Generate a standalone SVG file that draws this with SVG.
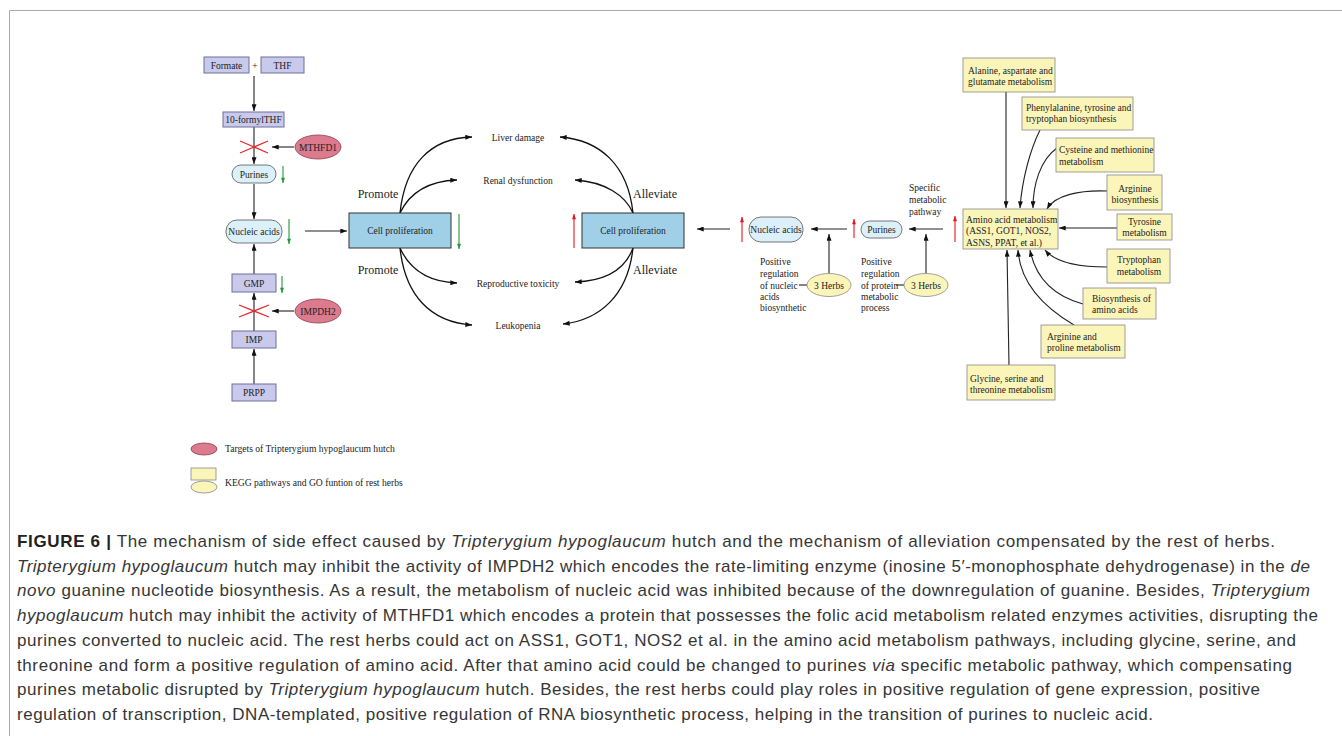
<svg xmlns="http://www.w3.org/2000/svg" width="1342" height="736" viewBox="0 0 1342 736">
<defs>
<marker id="ah" viewBox="0 0 8 6" refX="8" refY="3" markerWidth="7" markerHeight="5" orient="auto" markerUnits="userSpaceOnUse"><path d="M0,0 L8,3 L0,6 z" fill="#111"/></marker>
<marker id="ag" viewBox="0 0 8 6" refX="8" refY="3" markerWidth="6" markerHeight="4" orient="auto" markerUnits="userSpaceOnUse"><path d="M0,0 L8,3 L0,6 z" fill="#1f9a3a"/></marker>
<marker id="ar" viewBox="0 0 8 6" refX="8" refY="3" markerWidth="6" markerHeight="4" orient="auto" markerUnits="userSpaceOnUse"><path d="M0,0 L8,3 L0,6 z" fill="#e3141f"/></marker>
</defs>
<style>
.box{fill:#c9c9ec;stroke:#6f6f9a;stroke-width:1}
.rbox{fill:#dcf0f9;stroke:#555;stroke-width:0.8}
.cell{fill:#9fd0e8;stroke:#333;stroke-width:1}
.pink{fill:#dc7a8e;stroke:#8d3b4c;stroke-width:0.8}
.yel{fill:#fbf5ba;stroke:#888;stroke-width:0.8}
.t{font-family:"Liberation Serif",serif;font-size:9.5px;fill:#222}
.m{text-anchor:middle}
.big{font-size:12px}
.leg{font-size:9.6px}
.ln{stroke:#222;stroke-width:1.1;fill:none;marker-end:url(#ah)}
.pl{stroke:#222;stroke-width:1.1;fill:none}
.cv{stroke:#111;stroke-width:1.3;fill:none;marker-end:url(#ah)}
.gr{stroke:#1f9a3a;stroke-width:1.1;marker-end:url(#ag)}
.rd{stroke:#e3141f;stroke-width:1.1;marker-end:url(#ar)}
.x{stroke:#e8262e;stroke-width:1.3}
.cap{font-family:"Liberation Sans",Arial,sans-serif;font-size:17px;fill:#363636}
.i{font-style:italic}
</style>
<rect x="0" y="0" width="1342" height="736" fill="#fff"/>
<path d="M9.5,736 V10.5 H1342" fill="none" stroke="#aaa" stroke-width="1"/>

<g id="connectors">
<line class="ln" x1="254" y1="76" x2="254" y2="111"/>
<line class="ln" x1="254" y1="127" x2="254" y2="164"/>
<line class="ln" x1="294" y1="147" x2="272" y2="147"/>
<line class="ln" x1="254" y1="184" x2="254" y2="219"/>
<line class="ln" x1="305" y1="231" x2="347" y2="231"/>
<line class="ln" x1="254" y1="274" x2="254" y2="244"/>
<line class="ln" x1="254" y1="331" x2="254" y2="293"/>
<line class="ln" x1="294" y1="311" x2="272" y2="311"/>
<line class="ln" x1="254" y1="384" x2="254" y2="349"/>
<path class="cv" d="M400,213 C405,165 430,138 472,137"/>
<path class="cv" d="M400,213 C410,192 430,181 457,180"/>
<path class="cv" d="M400,248 C410,270 430,282 457,283"/>
<path class="cv" d="M400,248 C405,295 430,322 472,325"/>
<path class="cv" d="M633,213 C628,165 600,140 560,137"/>
<path class="cv" d="M633,213 C625,195 605,182 575,180"/>
<path class="cv" d="M633,248 C625,270 605,281 575,282"/>
<path class="cv" d="M633,248 C628,295 600,320 563,324"/>
<line class="ln" x1="730" y1="229" x2="697" y2="229"/>
<line class="ln" x1="847" y1="229" x2="811" y2="229"/>
<line class="ln" x1="943" y1="229" x2="909" y2="229"/>
<line class="ln" x1="829" y1="273" x2="829" y2="234"/>
<line class="ln" x1="926" y1="273" x2="926" y2="234"/>
<line class="pl" x1="799" y1="285" x2="807" y2="285"/>
<line class="pl" x1="896" y1="285" x2="904" y2="285"/>
<line class="ln" x1="1006" y1="92" x2="1006" y2="208"/>
<path class="ln" d="M1040,130 C1030,150 1022,180 1020,208"/>
<path class="ln" d="M1057,148 C1040,160 1033,185 1033,208"/>
<path class="ln" d="M1107,191 C1080,190 1055,195 1047,209"/>
<line class="ln" x1="1117" y1="228" x2="1059" y2="228"/>
<path class="ln" d="M1107,267 C1075,267 1055,262 1045,250"/>
<path class="ln" d="M1083,304 C1050,295 1035,275 1030,250"/>
<path class="ln" d="M1074,325 C1040,305 1020,280 1018,250"/>
<line class="ln" x1="1009" y1="365" x2="1007" y2="250"/>
<line class="x" x1="240" y1="141" x2="268" y2="153"/>
<line class="x" x1="240" y1="153" x2="268" y2="141"/>
<line class="x" x1="239" y1="305" x2="269" y2="317"/>
<line class="x" x1="239" y1="317" x2="269" y2="305"/>
<line class="gr" x1="283" y1="166" x2="283" y2="183"/>
<line class="gr" x1="289" y1="219" x2="289" y2="244"/>
<line class="gr" x1="282" y1="276" x2="282" y2="293"/>
<line class="gr" x1="459" y1="214" x2="459" y2="249"/>
<line class="rd" x1="574" y1="248" x2="574" y2="214"/>
<line class="rd" x1="742" y1="242" x2="742" y2="217"/>
<line class="rd" x1="854" y1="238" x2="854" y2="219"/>
<line class="rd" x1="955" y1="242" x2="955" y2="216"/>
</g>

<g id="formate"><rect class="box" x="204" y="57" width="45" height="16"/><text class="t m" x="226.5" y="68.5">Formate</text></g>
<g id="plus"><text class="t m" x="255" y="68.5">+</text></g>
<g id="thf"><rect class="box" x="261" y="57" width="43" height="16"/><text class="t m" x="282.5" y="68.5">THF</text></g>
<g id="formylthf"><rect class="box" x="223" y="112" width="61" height="15"/><text class="t m" x="253.5" y="123">10-formylTHF</text></g>
<g id="mthfd1"><ellipse class="pink" cx="318" cy="147" rx="23" ry="12"/><text class="t m" x="318" y="150.5">MTHFD1</text></g>
<g id="purines-left"><rect class="rbox" x="232" y="165" width="44" height="18" rx="9"/><text class="t m" x="254" y="177.5">Purines</text></g>
<g id="nucleic-left"><rect class="rbox" x="226" y="220" width="56" height="23" rx="11"/><text class="t m" x="254" y="235">Nucleic acids</text></g>
<g id="gmp"><rect class="box" x="232" y="274" width="44" height="18"/><text class="t m" x="254" y="286.5">GMP</text></g>
<g id="impdh2"><ellipse class="pink" cx="318" cy="311" rx="23" ry="12"/><text class="t m" x="318" y="314.5">IMPDH2</text></g>
<g id="imp"><rect class="box" x="232" y="331" width="44" height="17"/><text class="t m" x="254" y="343">IMP</text></g>
<g id="prpp"><rect class="box" x="232" y="384" width="44" height="17"/><text class="t m" x="254" y="396">PRPP</text></g>

<g id="cell-left"><rect class="cell" x="349" y="213" width="102" height="35"/><text class="t m" x="400" y="234">Cell proliferation</text></g>
<g id="cell-right"><rect class="cell" x="582" y="213" width="102" height="35"/><text class="t m" x="633" y="233.5">Cell proliferation</text></g>
<g id="labels-center">
<text class="t m" x="518" y="140.5">Liver damage</text>
<text class="t m" x="518" y="183.5">Renal dysfunction</text>
<text class="t m" x="518" y="286.5">Reproductive toxicity</text>
<text class="t m" x="518" y="328.5">Leukopenia</text>
<text class="t m big" x="378" y="197.5">Promote</text>
<text class="t m big" x="378" y="274">Promote</text>
<text class="t m big" x="655" y="198">Alleviate</text>
<text class="t m big" x="655" y="274">Alleviate</text>
</g>

<g id="nucleic-right"><rect class="rbox" x="749" y="217" width="54" height="25" rx="12"/><text class="t m" x="776" y="233">Nucleic acids</text></g>
<g id="purines-right"><rect class="rbox" x="861" y="221" width="41" height="17" rx="8.5"/><text class="t m" x="881.5" y="233">Purines</text></g>
<g id="herbs1"><ellipse class="yel" cx="829" cy="285" rx="22" ry="11.5"/><text class="t m" x="829" y="288.5">3 Herbs</text></g>
<g id="herbs2"><ellipse class="yel" cx="926" cy="285" rx="22" ry="11.5"/><text class="t m" x="926" y="288.5">3 Herbs</text></g>
<g id="label-pos1"><text class="t" x="760" y="265">Positive<tspan x="760" y="277">regulation</tspan><tspan x="760" y="288.5">of nucleic</tspan><tspan x="760" y="300">acids</tspan><tspan x="760" y="311">biosynthetic</tspan></text></g>
<g id="label-pos2"><text class="t" x="861" y="265">Positive<tspan x="861" y="277">regulation</tspan><tspan x="861" y="288.5">of protein</tspan><tspan x="861" y="300">metabolic</tspan><tspan x="861" y="311">process</tspan></text></g>
<g id="label-specific"><text class="t" x="909" y="190.5">Specific<tspan x="909" y="202.5">metabolic</tspan><tspan x="909" y="214.5">pathway</tspan></text></g>

<g id="alanine"><rect class="yel" x="963" y="58" width="92" height="34"/><text class="t" x="968" y="73.5">Alanine, aspartate and<tspan x="968" y="84.5">glutamate metabolism</tspan></text></g>
<g id="phenylalanine"><rect class="yel" x="1022" y="97" width="111" height="33"/><text class="t" x="1026" y="110.5">Phenylalanine, tyrosine and<tspan x="1026" y="121.5">tryptophan biosynthesis</tspan></text></g>
<g id="cysteine"><rect class="yel" x="1056" y="138" width="98" height="34"/><text class="t" x="1059" y="152.5">Cysteine and methionine<tspan x="1059" y="164.5">metabolism</tspan></text></g>
<g id="arginine-bio"><rect class="yel" x="1107" y="175" width="55" height="35"/><text class="t m" x="1135" y="191.5">Arginine<tspan x="1135" y="202.5">biosynthesis</tspan></text></g>
<g id="amino"><rect class="yel" x="963" y="209" width="95" height="40"/><text class="t" x="966" y="222.5">Amino acid metabolism<tspan x="966" y="234">(ASS1, GOT1, NOS2,</tspan><tspan x="966" y="245.5">ASNS, PPAT, et al.)</tspan></text></g>
<g id="tyrosine"><rect class="yel" x="1117" y="214" width="55" height="26"/><text class="t m" x="1144.5" y="224.5">Tyrosine<tspan x="1144.5" y="235.5">metabolism</tspan></text></g>
<g id="tryptophan"><rect class="yel" x="1107" y="249" width="63" height="34"/><text class="t m" x="1139" y="262.5">Tryptophan<tspan x="1139" y="275">metabolism</tspan></text></g>
<g id="biosynthesis"><rect class="yel" x="1083" y="288" width="73" height="31"/><text class="t" x="1092" y="301.5">Biosynthesis of<tspan x="1092" y="313">amino acids</tspan></text></g>
<g id="arginine-proline"><rect class="yel" x="1041" y="325" width="84" height="33"/><text class="t" x="1047" y="339.5">Arginine and<tspan x="1047" y="351">proline metabolism</tspan></text></g>
<g id="glycine"><rect class="yel" x="967" y="365" width="88" height="35"/><text class="t" x="970" y="381.5">Glycine, serine and<tspan x="970" y="392.5">threonine metabolism</tspan></text></g>

<g id="legend">
<ellipse class="pink" cx="204" cy="449" rx="13" ry="6"/>
<text class="t leg" x="225" y="451.5">Targets of  Tripterygium hypoglaucum hutch</text>
<rect class="yel" x="191" y="468" width="25" height="12"/>
<ellipse class="yel" cx="204" cy="487" rx="13" ry="6"/>
<text class="t leg" x="225" y="486">KEGG pathways and GO funtion of rest herbs</text>
</g>

<g id="caption" class="cap">
<text x="17" y="547" textLength="1258"><tspan font-weight="bold" fill="#222">FIGURE 6 |</tspan> The mechanism of side effect caused by <tspan class="i">Tripterygium hypoglaucum</tspan> hutch and the mechanism of alleviation compensated by the rest of herbs.</text>
<text x="17" y="571.7" textLength="1293"><tspan class="i">Tripterygium hypoglaucum</tspan> hutch may inhibit the activity of IMPDH2 which encodes the rate-limiting enzyme (inosine 5′-monophosphate dehydrogenase) in the <tspan class="i">de</tspan></text>
<text x="17" y="596.4" textLength="1293"><tspan class="i">novo</tspan> guanine nucleotide biosynthesis. As a result, the metabolism of nucleic acid was inhibited because of the downregulation of guanine. Besides, <tspan class="i">Tripterygium</tspan></text>
<text x="17" y="621.1" textLength="1301"><tspan class="i">hypoglaucum</tspan> hutch may inhibit the activity of MTHFD1 which encodes a protein that possesses the folic acid metabolism related enzymes activities, disrupting the</text>
<text x="17" y="645.8" textLength="1279">purines converted to nucleic acid. The rest herbs could act on ASS1, GOT1, NOS2 et al. in the amino acid metabolism pathways, including glycine, serine, and</text>
<text x="17" y="670.5" textLength="1275">threonine and form a positive regulation of amino acid. After that amino acid could be changed to purines <tspan class="i">via</tspan> specific metabolic pathway, which compensating</text>
<text x="17" y="695.2" textLength="1243">purines metabolic disrupted by <tspan class="i">Tripterygium hypoglaucum</tspan> hutch. Besides, the rest herbs could play roles in positive regulation of gene expression, positive</text>
<text x="17" y="719.9" textLength="1136">regulation of transcription, DNA-templated, positive regulation of RNA biosynthetic process, helping in the transition of purines to nucleic acid.</text>
</g>
</svg>
